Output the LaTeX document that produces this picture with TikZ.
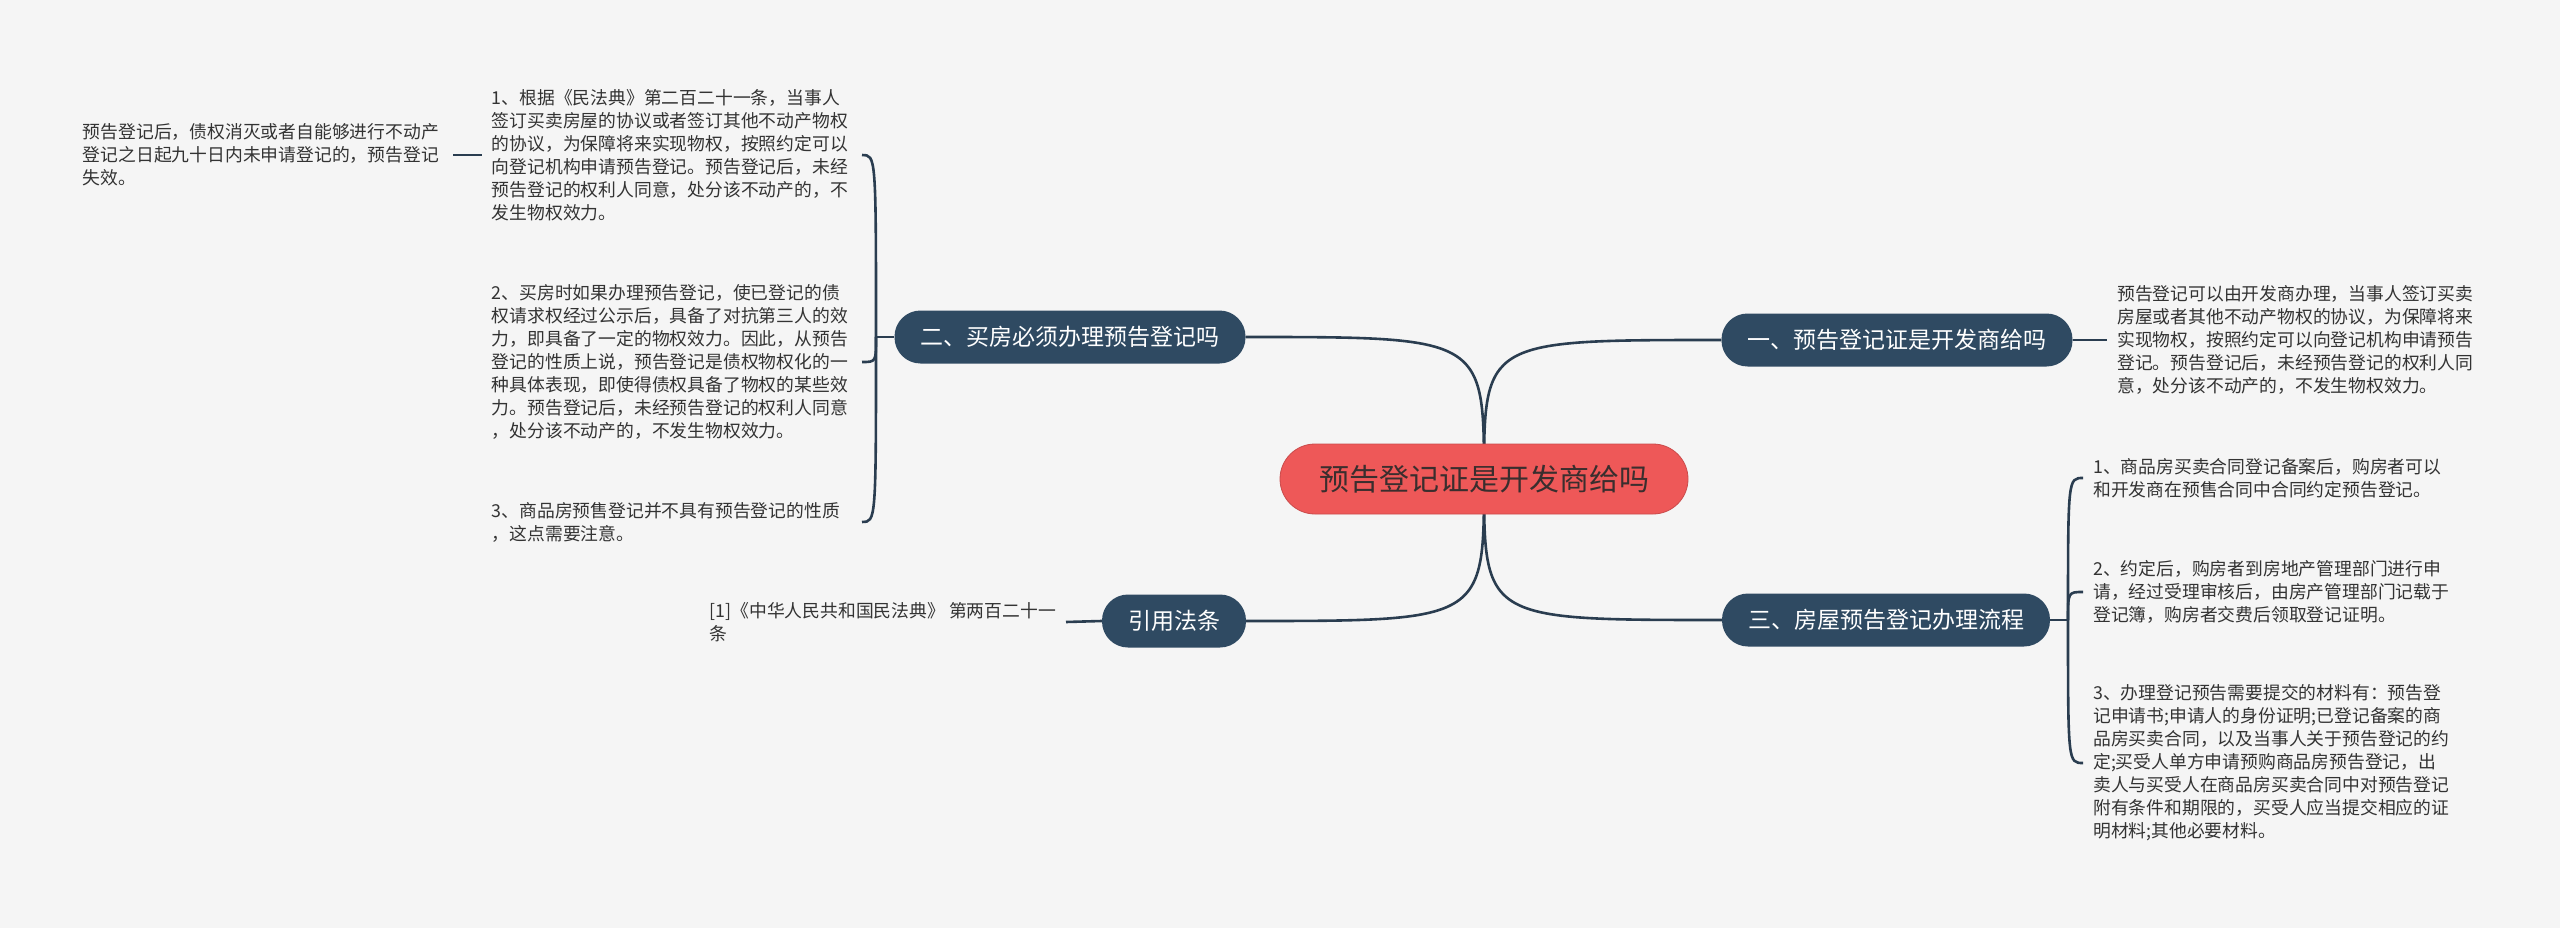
\documentclass[tikz,border=0pt]{standalone}
\usepackage{fontspec}
\setmainfont{Noto Sans CJK SC}
\usetikzlibrary{positioning}
\definecolor{bgGray}{HTML}{F5F5F5}
\definecolor{rootRed}{HTML}{EE5858}
\definecolor{rootText}{HTML}{3A2E2E}
\definecolor{branchBlue}{HTML}{2F4A62}
\definecolor{linkBlue}{HTML}{2A3D50}
\definecolor{leafGray}{HTML}{333333}
\pgfdeclarelayer{edgeLayer}
\pgfsetlayers{edgeLayer,main}
\tikzset{rootNode/.style={shape=rectangle, rounded corners=35pt, minimum width=408pt, minimum height=70pt, align=center, font=\fontsize{30}{36}\selectfont, fill=rootRed, draw=rootRed!85!black, line width=0.8pt, text=rootText}}
\tikzset{branchNode/.style={shape=rectangle, rounded corners=26pt, minimum height=53pt, inner xsep=26pt, align=center, font=\fontsize{23}{28}\selectfont, fill=branchBlue, text=white}}
\tikzset{leafText/.style={shape=rectangle, inner xsep=10pt, inner ysep=4pt, align=left, font=\fontsize{17.8}{23}\selectfont, text=leafGray}}
\tikzset{wideLeaf/.style={leafText, text width=360pt}}
\tikzset{link/.style={draw=linkBlue, line width=2.6pt}}

\begin{document}
\begin{tikzpicture}[x=1pt, y=-1pt]

\useasboundingbox (0,0) rectangle (2560,928);

% Root
\node[rootNode] (root) at (1484,479) {预告登记证是开发商给吗};

% Branch 1
\node[branchNode] (b1) at (1897,340) {一、预告登记证是开发商给吗};
\node[wideLeaf, anchor=west] (l11) at (2107,340) {预告登记可以由开发商办理，当事人签订买卖\\房屋或者其他不动产物权的协议，为保障将来\\实现物权，按照约定可以向登记机构申请预告\\登记。预告登记后，未经预告登记的权利人同\\意，处分该不动产的，不发生物权效力。};

% Branch 2
\node[branchNode] (b2) at (1070,337) {二、买房必须办理预告登记吗};
\coordinate (j2) at (876,337);
\node[wideLeaf, anchor=east] (l21) at (862,155) {1、根据《民法典》第二百二十一条，当事人\\签订买卖房屋的协议或者签订其他不动产物权\\的协议，为保障将来实现物权，按照约定可以\\向登记机构申请预告登记。预告登记后，未经\\预告登记的权利人同意，处分该不动产的，不\\发生物权效力。};
\node[wideLeaf, anchor=east] (l21a) at (453,155) {预告登记后，债权消灭或者自能够进行不动产\\登记之日起九十日内未申请登记的，预告登记\\失效。};
\node[wideLeaf, anchor=east] (l22) at (862,362) {2、买房时如果办理预告登记，使已登记的债\\权请求权经过公示后，具备了对抗第三人的效\\力，即具备了一定的物权效力。因此，从预告\\登记的性质上说，预告登记是债权物权化的一\\种具体表现，即使得债权具备了物权的某些效\\力。预告登记后，未经预告登记的权利人同意\\，处分该不动产的，不发生物权效力。};
\node[wideLeaf, anchor=east] (l23) at (862,522) {3、商品房预售登记并不具有预告登记的性质\\，这点需要注意。};

% Branch 3
\node[branchNode] (b3) at (1886,620) {三、房屋预告登记办理流程};
\coordinate (j3) at (2068,620);
\node[wideLeaf, anchor=west] (l31) at (2083,478) {1、商品房买卖合同登记备案后，购房者可以\\和开发商在预售合同中合同约定预告登记。};
\node[wideLeaf, anchor=west] (l32) at (2083,592) {2、约定后，购房者到房地产管理部门进行申\\请，经过受理审核后，由房产管理部门记载于\\登记簿，购房者交费后领取登记证明。};
\node[wideLeaf, anchor=west] (l33) at (2083,763) {3、办理登记预告需要提交的材料有：预告登\\记申请书;申请人的身份证明;已登记备案的商\\品房买卖合同，以及当事人关于预告登记的约\\定;买受人单方申请预购商品房预告登记，出\\卖人与买受人在商品房买卖合同中对预告登记\\附有条件和期限的，买受人应当提交相应的证\\明材料;其他必要材料。};

% Branch 4
\node[branchNode] (b4) at (1174,621) {引用法条};
\node[leafText, anchor=east] (l41) at (1066,622) {[1]《中华人民共和国民法典》 第两百二十一\\条};

% Connectors
\begin{pgfonlayer}{edgeLayer}
\fill[bgGray] (0,0) rectangle (2560,928);
\draw[link] (root.center) .. controls (root.center |- b1.west) .. (b1.west);
\draw[link] (root.center) .. controls (root.center |- b2.east) .. (b2.east);
\draw[link] (root.center) .. controls (root.center |- b3.west) .. (b3.west);
\draw[link] (root.center) .. controls (root.center |- b4.east) .. (b4.east);
\draw[link] (b1.east) -- (l11.west);
\draw[link] (b2.west) -- (j2);
\draw[link] (j2) .. controls (j2 |- l21.east) .. (l21.east);
\draw[link] (j2) .. controls (j2 |- l22.east) .. (l22.east);
\draw[link] (j2) .. controls (j2 |- l23.east) .. (l23.east);
\draw[link] (l21.west) -- (l21a.east);
\draw[link] (b3.east) -- (j3);
\draw[link] (j3) .. controls (j3 |- l31.west) .. (l31.west);
\draw[link] (j3) .. controls (j3 |- l32.west) .. (l32.west);
\draw[link] (j3) .. controls (j3 |- l33.west) .. (l33.west);
\draw[link] (b4.west) -- (l41.east);
\end{pgfonlayer}

\end{tikzpicture}
\end{document}
